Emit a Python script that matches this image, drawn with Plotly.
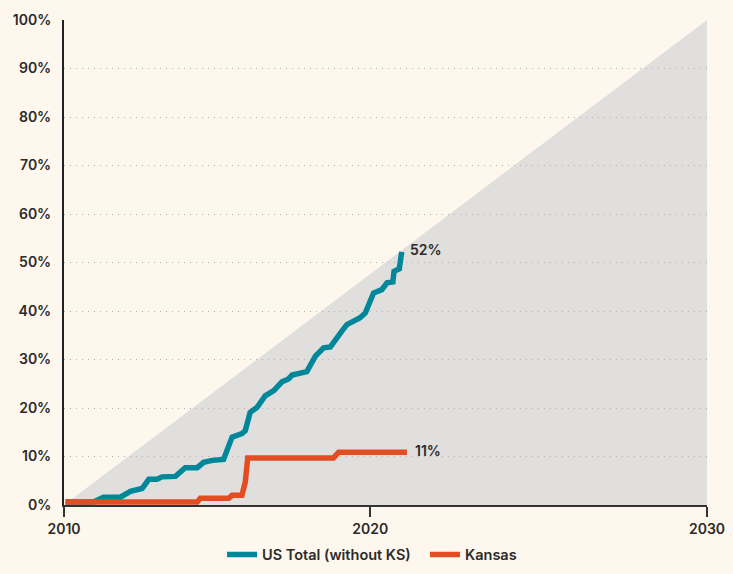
import plotly.graph_objects as go

# ---- data ----
us_years = [2010.05, 2010.96, 2011.29, 2011.84, 2012.17, 2012.55, 2012.77, 2013.04, 2013.20, 2013.64,
            2013.96, 2014.35, 2014.56, 2014.84, 2015.21, 2015.49, 2015.81, 2015.92, 2016.08, 2016.30,
            2016.57, 2016.85, 2017.12, 2017.33, 2017.45, 2017.66, 2017.93, 2018.21, 2018.48, 2018.70,
            2018.91, 2019.08, 2019.24, 2019.46, 2019.67, 2019.84, 2020.11, 2020.38, 2020.55, 2020.74,
            2020.78, 2020.95, 2020.98, 2021.03]
us_pct = [0.6, 0.6, 1.6, 1.6, 2.8, 3.4, 5.3, 5.3, 5.8, 5.9,
          7.7, 7.7, 8.8, 9.2, 9.4, 14.0, 14.7, 15.3, 19.1, 20.1,
          22.5, 23.6, 25.4, 26.0, 26.8, 27.0, 27.5, 30.7, 32.4, 32.6,
          34.2, 35.9, 37.2, 37.9, 38.6, 39.6, 43.7, 44.4, 45.8, 46.0,
          48.2, 48.7, 50.9, 52.2]

ks_years = [2010.05, 2014.35, 2014.45, 2015.38, 2015.49, 2015.81, 2015.92, 2016.00, 2018.80, 2018.97, 2021.20]
ks_pct = [0.6, 0.6, 1.4, 1.4, 2.0, 2.0, 4.7, 9.7, 9.7, 10.9, 10.9]

pace_years = [2010, 2031]
pace_pct = [0, 100]

x_tickvals = [2010, 2020, 2031]
x_ticktext = ["2010", "2020", "2030"]
y_tickvals = [0, 10, 20, 30, 40, 50, 60, 70, 80, 90, 100]
y_ticktext = [f"{v}%" for v in y_tickvals]

series_names = ["US Total (without KS)", "Kansas"]
end_labels = ["52%", "11%"]

TEAL = "#00889A"
ORANGE = "#E24E22"
BG = "#FDF7EE"
FILL = "#E0DFDD"
TXT = "#2B2A29"
FONT = "Inter, Roboto, sans-serif"
W = 600

fig = go.Figure()

fig.add_trace(go.Scatter(x=us_years, y=us_pct, mode="lines", name=series_names[0],
                         line=dict(color=TEAL, width=5.5), hoverinfo="skip"))
fig.add_trace(go.Scatter(x=ks_years, y=ks_pct, mode="lines", name=series_names[1],
                         line=dict(color=ORANGE, width=5.5), hoverinfo="skip"))

# pace triangle
path = (f"M {pace_years[0]},{pace_pct[0]} L {pace_years[1]},{pace_pct[1]} "
        f"L {pace_years[1]},{pace_pct[0]} Z")
fig.add_shape(type="path", path=path, xref="x", yref="y",
              fillcolor=FILL, line=dict(width=0), layer="below")

for xs, ys, lab in [(us_years, us_pct, end_labels[0]), (ks_years, ks_pct, end_labels[1])]:
    fig.add_annotation(x=xs[-1], y=ys[-1], text=lab, showarrow=False,
                       xanchor="left", yanchor="middle", xshift=6, yshift=2,
                       font=dict(family=FONT, size=14, color=TXT, weight=W))

fig.update_layout(
    width=733, height=574,
    paper_bgcolor=BG, plot_bgcolor=BG,
    margin=dict(l=64, r=26, t=20, b=69),
    font=dict(family=FONT, size=14, color=TXT, weight=W),
    showlegend=True,
    legend=dict(orientation="h", xref="container", yref="container",
                x=222 / 733, xanchor="left", y=0.034, yanchor="middle",
                font=dict(family=FONT, size=14.5, color=TXT, weight=W),
                entrywidth=158, entrywidthmode="pixels",
                bgcolor="rgba(0,0,0,0)", itemwidth=30, tracegroupgap=0),
    xaxis=dict(range=[pace_years[0], pace_years[1]], tickvals=x_tickvals, ticktext=x_ticktext,
               automargin=False,
               showgrid=False, zeroline=False, showline=True, linecolor="#333333", linewidth=1.5,
               ticks="outside", ticklen=10, tickwidth=1.5, tickcolor="#333333",
               tickfont=dict(family=FONT, size=14, color=TXT, weight=W)),
    yaxis=dict(range=[0, 100], tickvals=y_tickvals, ticktext=y_ticktext,
               automargin=False,
               showgrid=True, gridcolor="#B3B1AD", griddash="1px,5px", gridwidth=1.2,
               zeroline=False, showline=True, linecolor="#222222", linewidth=2,
               ticks="", ticklabelstandoff=8,
               tickfont=dict(family=FONT, size=14, color=TXT, weight=W)),
)

fig.write_html("out.html", config={"displayModeBar": False},
               post_script="document.body.style.margin='0';document.body.style.background='%s';" % BG)
